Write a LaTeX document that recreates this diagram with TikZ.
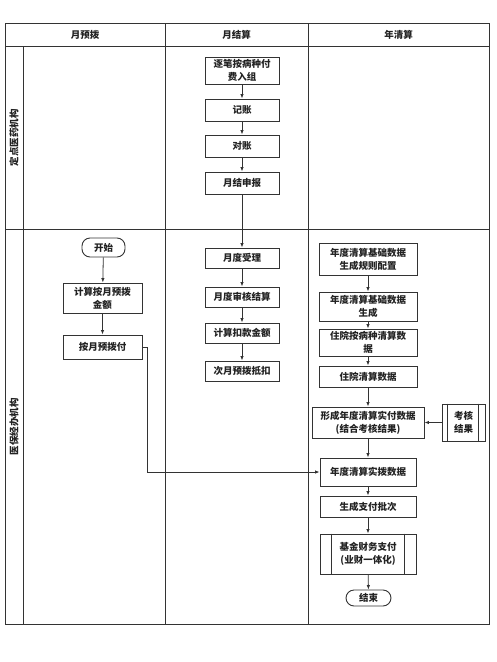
\documentclass[tikz,border=0pt]{standalone}
\usepackage{fontspec}
\newfontfamily\cjk{Noto Sans CJK SC}
\usetikzlibrary{arrows.meta}
\definecolor{lc}{HTML}{333333}
\definecolor{tc}{HTML}{222222}
\begin{document}
\begin{tikzpicture}[x=1pt,y=-1pt,
  txt/.style={font=\cjk\bfseries\fontsize{9.5}{13}\selectfont, text=tc, align=center},
  box/.style={txt, draw=lc, line width=0.9pt, fill=white, inner sep=1pt},
  term/.style={box, rounded corners=8pt},
  arr/.style={draw=lc, line width=0.8pt, -{Latex[length=4.5pt,width=3.5pt]}},
  frame/.style={draw=lc, line width=1pt}]
\useasboundingbox (0,0) rectangle (497,662);
% frame
\draw[frame] (5,23) rectangle (489,624);
\draw[frame] (5,46) -- (489,46);
\draw[frame] (5,229) -- (489,229);
\draw[frame] (23,46) -- (23,624);
\draw[frame] (165,23) -- (165,624);
\draw[frame] (308,23) -- (308,624);
\node[txt] (h1) at (85,34.5) {月预拨};
\node[txt] (h2) at (236.5,34.5) {月结算};
\node[txt] (h3) at (398.5,34.5) {年清算};
\node[txt, rotate=90] (lane1) at (14,137.5) {定点医药机构};
\node[txt, rotate=90] (lane2) at (14,426.5) {医保经办机构};
% middle column
\node[box, minimum width=74pt, minimum height=27pt] (n1) at (242,70.5) {逐笔按病种付\\费入组};
\node[box, minimum width=74pt, minimum height=22pt] (n2) at (242,110) {记账};
\node[box, minimum width=74pt, minimum height=22pt] (n3) at (242,146) {对账};
\node[box, minimum width=74pt, minimum height=22pt] (n4) at (242,183) {月结申报};
\node[box, minimum width=74pt, minimum height=20pt] (m1) at (242,258) {月度受理};
\node[box, minimum width=74pt, minimum height=20pt] (m2) at (242,297) {月度审核结算};
\node[box, minimum width=74pt, minimum height=20pt] (m3) at (242,333) {计算扣款金额};
\node[box, minimum width=74pt, minimum height=20pt] (m4) at (242,371) {次月预拨抵扣};
% left column
\node[term, minimum width=43pt, minimum height=19pt] (st) at (103.5,247.5) {开始};
\node[box, minimum width=79pt, minimum height=30pt] (l1) at (102.5,298) {计算按月预拨\\金额};
\node[box, minimum width=79pt, minimum height=24pt] (l2) at (102.5,347) {按月预拨付};
% right column
\node[box, minimum width=98pt, minimum height=32pt] (r1) at (368,259) {年度清算基础数据\\生成规则配置};
\node[box, minimum width=98pt, minimum height=29pt] (r2) at (368,306.5) {年度清算基础数据\\生成};
\node[box, minimum width=98pt, minimum height=27pt] (r3) at (368,342.5) {住院按病种清算数\\据};
\node[box, minimum width=98pt, minimum height=21pt] (r4) at (368,376.5) {住院清算数据};
\node[box, minimum width=112pt, minimum height=31pt] (r5) at (368,422.5) {形成年度清算实付数据\\(结合考核结果)};
\node[box, minimum width=43pt, minimum height=37pt] (kh) at (463.5,422.5) {考核\\结果};
\draw[lc, line width=0.9pt] ([xshift=6pt]kh.north west) -- ([xshift=6pt]kh.south west)
  ([xshift=-7pt]kh.north east) -- ([xshift=-7pt]kh.south east);
\node[box, minimum width=96pt, minimum height=28pt] (r6) at (368,472) {年度清算实拨数据};
\node[box, minimum width=96pt, minimum height=21pt] (r7) at (368,506.5) {生成支付批次};
\node[box, minimum width=96pt, minimum height=40pt] (r8) at (368,554) {基金财务支付\\(业财一体化)};
\draw[lc, line width=0.9pt] ([xshift=12pt]r8.north west) -- ([xshift=12pt]r8.south west)
  ([xshift=-12pt]r8.north east) -- ([xshift=-12pt]r8.south east);
\node[term, minimum width=45pt, minimum height=16pt] (en) at (368.5,598) {结束};
% connectors
\draw[arr] (n1) -- (n2);
\draw[arr] (n2) -- (n3);
\draw[arr] (n3) -- (n4);
\draw[arr] (n4) -- (m1);
\draw[arr] (m1) -- (m2);
\draw[arr] (m2) -- (m3);
\draw[arr] (m3) -- (m4);
\draw[arr] (st) -- (l1);
\draw[arr] (l1) -- (l2);
\draw[arr] (r1) -- (r2);
\draw[arr] (r2) -- (r3);
\draw[arr] (r3) -- (r4);
\draw[arr] (r4) -- (r5);
\draw[arr] (kh) -- (r5);
\draw[arr] (r5) -- (r6);
\draw[arr] (r6) -- (r7);
\draw[arr] (r7) -- (r8);
\draw[arr] (r8) -- (en);
\draw[arr] (l2.east) -- ++(5,0) |- (r6.west);
\end{tikzpicture}
\end{document}
